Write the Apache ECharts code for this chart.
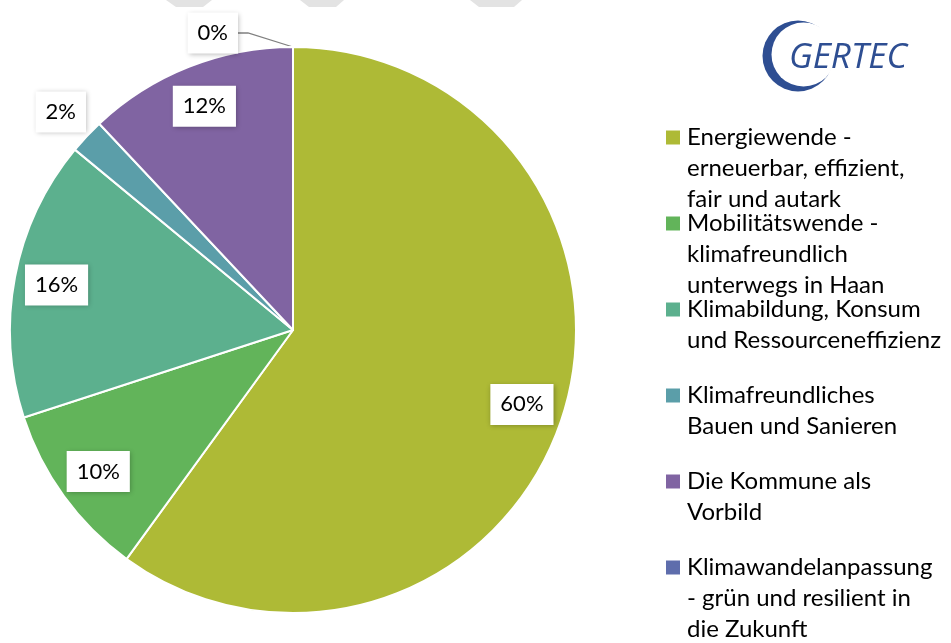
<!DOCTYPE html>
<html>
<head>
<meta charset="utf-8">
<script src="https://cdn.jsdelivr.net/npm/echarts@6/dist/echarts.min.js"></script>
<style>
  html, body { margin: 0; padding: 0; background: #ffffff; }
  #chart { width: 951px; height: 643px; }
</style>
</head>
<body>
<div id="chart"></div>
<script>
// Action fields (legend text, wrapped as shown)
const categories = [
  'Energiewende -\nerneuerbar, effizient,\nfair und autark',
  'Mobilitätswende -\nklimafreundlich\nunterwegs in Haan',
  'Klimabildung, Konsum\nund Ressourceneffizienz',
  'Klimafreundliches\nBauen und Sanieren',
  'Die Kommune als\nVorbild',
  'Klimawandelanpassung\n- grün und resilient in\ndie Zukunft'
];
// Share of measures per field, in percent
const shares = [60, 10, 16, 2, 12, 0];
const colors = ['#AEBA36', '#62B45A', '#5CB08E', '#5B9EA9', '#8064A2', '#5E6DAC'];

// Which labels sit inside the pie, just outside it, or on a leader line
const innerLabels = [0, 1, 2, 4];
const outerLabels = [3];
const leaderLabels = [5];

const FONT = 'Lato, "Open Sans", sans-serif';
const CENTER = [293, 330];
const R = 283;

const boxLabel = {
  color: '#000',
  fontFamily: FONT,
  fontSize: 22,
  lineHeight: 24,
  backgroundColor: '#ffffff',
  padding: [9, 10, 8, 10],
  shadowColor: 'rgba(0,0,0,0.28)',
  shadowBlur: 5,
  shadowOffsetX: 1,
  shadowOffsetY: 1,
  formatter: p => Math.round(p.percent) + '%'
};

// Invisible rings that only carry labels at a chosen distance from the centre
function labelRingData(labelSet) {
  return shares.map((v, i) => ({
    name: categories[i],
    value: v,
    label: { show: labelSet.includes(i) },
    labelLine: { show: false }
  }));
}

// Legend: colour marker + wrapped text, every item padded to three lines
const rich = {
  g: { width: 7, lineHeight: 31 },
  ind: { width: 21, lineHeight: 31 },
  t: { fontFamily: FONT, fontSize: 24, lineHeight: 31, color: '#000' }
};
colors.forEach((c, i) => {
  rich['m' + i] = { width: 14, height: 14, backgroundColor: c, lineHeight: 31 };
});
function legendText(name) {
  const i = categories.indexOf(name);
  const lines = name.split('\n');
  const out = lines.map((l, j) => j === 0 ? `{m${i}|}{g|}{t|${l}}` : `{ind|}{t|${l}}`);
  while (out.length < 3) out.push('{ind|}');
  return out.join('\n');
}

const mainData = shares.map((v, i) => ({
  name: categories[i],
  value: v,
  itemStyle: { color: colors[i] },
  label: { show: leaderLabels.includes(i) },
  labelLine: { show: leaderLabels.includes(i) }
}));

const labelRing = {
  type: 'pie',
  silent: true,
  legendHoverLink: false,
  center: CENTER,
  startAngle: 90,
  clockwise: true,
  avoidLabelOverlap: false,
  emphasis: { disabled: true },
  itemStyle: { color: 'rgba(0,0,0,0)', borderWidth: 0 },
  label: Object.assign({ position: 'inside' }, boxLabel),
  labelLine: { show: false }
};

const option = {
  backgroundColor: '#ffffff',
  animation: false,
  legend: {
    orient: 'vertical',
    left: 660,
    top: 122,
    height: 560,
    padding: 0,
    itemGap: -7,
    itemWidth: 0,
    itemHeight: 0,
    selectedMode: false,
    data: categories,
    formatter: legendText,
    textStyle: { rich: rich, fontFamily: FONT, fontSize: 24, lineHeight: 31 }
  },
  graphic: [
    // faint marks along the top edge
    { type: 'polygon', silent: true, shape: { points: [[166, 0], [212, 0], [203, 7], [176, 7]] }, style: { fill: '#e3e3e3' } },
    { type: 'polygon', silent: true, shape: { points: [[300, 0], [344, 0], [336, 7], [309, 7]] }, style: { fill: '#e3e3e3' } },
    { type: 'polygon', silent: true, shape: { points: [[470, 0], [522, 0], [514, 7], [479, 7]] }, style: { fill: '#e3e3e3' } },
    // GERTEC logo
    { type: 'circle', silent: true, shape: { cx: 798, cy: 56, r: 35.5 }, style: { fill: '#2E4E92' } },
    { type: 'circle', silent: true, shape: { cx: 803.5, cy: 54.5, r: 32 }, style: { fill: '#ffffff' } },
    { type: 'text', silent: true, x: 789, y: 58, style: { text: 'GERTEC', font: 'italic 35px "Open Sans"', fill: '#2E4E92', verticalAlign: 'middle' } }
  ],
  series: [
    {
      name: 'Anteile',
      type: 'pie',
      center: CENTER,
      radius: R,
      startAngle: 90,
      clockwise: true,
      avoidLabelOverlap: false,
      emphasis: { disabled: true },
      itemStyle: { borderColor: '#ffffff', borderWidth: 2 },
      label: Object.assign({ position: 'outside', distanceToLabelLine: 0 }, boxLabel),
      labelLine: { length: 14, length2: 45, lineStyle: { color: '#808080', width: 1.3 } },
      labelLayout: function (params) {
        const pts = params.labelLinePoints;
        if (!pts || pts.length < 3) return {};
        // diagonal run from the rim, then a short horizontal tail to the box
        return {
          dx: -10,
          labelLinePoints: [pts[0], pts[2], [pts[2][0] - 10, pts[2][1]]]
        };
      },
      data: mainData
    },
    Object.assign({ name: 'Beschriftung innen', radius: [R * 0.78, R * 0.9], data: labelRingData(innerLabels) }, labelRing),
    Object.assign({ name: 'Beschriftung außen', radius: [R * 1.06, R * 1.17], data: labelRingData(outerLabels) }, labelRing)
  ]
};

const chart = echarts.init(document.getElementById('chart'), null, { renderer: 'canvas' });
chart.setOption(option);
</script>
</body>
</html>
